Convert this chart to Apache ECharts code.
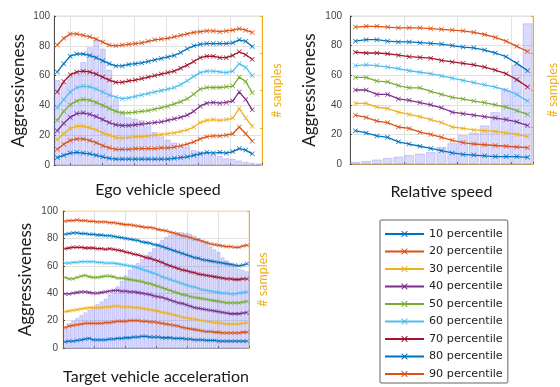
<!DOCTYPE html>
<html>
<head>
<meta charset="utf-8">
<script src="https://cdn.jsdelivr.net/npm/echarts@6/dist/echarts.min.js"></script>
<style>
  html, body { margin: 0; padding: 0; background: #fff; }
  #app { width: 560px; height: 387px; }
</style>
</head>
<body>
<div id="app"></div>
<script>
// percentile names and colours
var names = ['10 percentile', '20 percentile', '30 percentile', '40 percentile', '50 percentile',
  '60 percentile', '70 percentile', '80 percentile', '90 percentile'];
var colors = ['#0072BD', '#D95319', '#EDB120', '#7E2F8E', '#77AC30', '#4DBEEE', '#A2142F', '#0072BD', '#D95319'];
var yTicks = [0, 20, 40, 60, 80, 100];

// Ego vehicle speed (31 points, 32 histogram bins)
var egoSamples = [57, 55, 59, 62, 69, 79, 84, 78, 64, 44, 36, 32, 31, 30, 26, 22, 19, 17, 15, 13, 12, 10, 9, 8, 7, 6, 4.5, 4, 3, 2, 1.5, 1];
var ego10 = [5, 6.5, 8, 8.5, 8, 7.5, 6.5, 5.5, 4.5, 4, 4, 4, 4, 4, 4, 4, 4, 4, 4.5, 5, 5.5, 6.5, 7.5, 8.5, 8, 8.5, 8, 9, 11, 10, 7.5];
var ego20 = [10.5, 14, 16.5, 17.5, 17.5, 16.5, 15, 13, 11.5, 10.5, 10.5, 10.5, 11, 11, 11, 11, 11.5, 11.5, 12, 13, 14, 15.5, 17.5, 19, 19.5, 19.5, 20, 21, 25.5, 21, 16];
var ego30 = [17, 21, 24.5, 26, 26, 25, 23.5, 21.5, 20, 18.5, 18, 18.5, 19, 19, 19.5, 20, 20.5, 21, 21.5, 22.5, 23.5, 25.5, 28.5, 30, 30.5, 30, 30.5, 31.5, 38, 31.5, 26];
var ego40 = [23, 28, 32, 34.5, 35, 34, 32.5, 30.5, 28.5, 27, 26.5, 26.5, 27, 27.5, 28, 28.5, 29, 30, 31, 32, 33.5, 36, 39.5, 41.5, 42, 41.5, 42, 43, 49, 44, 37];
var ego50 = [30, 36, 40.5, 43, 44, 43.5, 42, 40, 38, 36, 35, 35, 35.5, 36, 36.5, 37.5, 38.5, 39.5, 41, 42.5, 44.5, 47.5, 51, 52, 52, 52, 52.5, 53, 59, 56, 48.5];
var ego60 = [38.5, 44, 49, 52, 53, 52.5, 51, 49, 47, 45.5, 44.5, 45, 46, 47, 48, 49, 50, 51, 52, 54, 56.5, 59.5, 62, 63, 63, 62.5, 62, 63, 68, 65.5, 60];
var ego70 = [49, 56, 60.5, 62.5, 63, 62.5, 61, 59, 57, 55.5, 55.5, 56.5, 57, 58, 59, 60, 61, 62, 63, 65, 67, 69.5, 72, 73, 73, 72, 72, 73.5, 76, 74, 71];
var ego80 = [62.5, 68, 73, 74.5, 74.5, 73.5, 72, 70, 68, 66.5, 66.5, 67.5, 68, 68.5, 69.5, 70.5, 71.5, 72.5, 73.5, 75.5, 78, 80, 81, 81.5, 81.5, 81.5, 81.5, 82, 84, 83, 79.5];
var ego90 = [80.5, 85, 88, 88, 87, 86, 84.5, 82.5, 80.5, 80, 80.5, 81, 81.5, 82, 83, 84, 84.5, 85, 86, 87, 88, 89, 89.5, 90, 90, 89.5, 90, 90.5, 91.5, 90.5, 89];

// Relative speed (17 bins)
var relSamples = [1.5, 2, 3, 4, 5, 6, 7, 8, 11.5, 14, 19.5, 21, 26, 35, 50, 67, 95];
var rel10 = [22.5, 21, 19, 18, 15, 13.5, 12, 10.5, 9, 7.5, 6.5, 6, 5.5, 5, 5, 5, 4.5];
var rel20 = [33, 31.5, 29, 28, 25, 24, 21.5, 20, 18, 16, 14.5, 13.5, 13, 12.5, 12, 11.5, 11];
var rel30 = [41, 41, 38.5, 37.5, 35, 33.5, 32, 30, 28, 25, 24, 23, 22.5, 22, 21, 20, 18.5];
var rel40 = [50, 50, 47, 47, 44, 43, 41.5, 40, 38, 35, 34, 33, 32, 31, 30, 28.5, 26];
var rel50 = [58.5, 58.5, 56, 55.5, 53, 51.5, 51.5, 49, 47, 45, 44, 42.5, 41.5, 40, 38.5, 36, 33.5];
var rel60 = [66.5, 67, 66.5, 65.5, 64.5, 63, 62, 61, 59.5, 58, 56.5, 55, 53.5, 52, 50, 47, 42.5];
var rel70 = [75.5, 75, 75, 74.5, 73.5, 72.5, 72, 71.5, 70, 69, 68, 67, 65.5, 63.5, 61, 57, 52];
var rel80 = [83, 84, 84, 83, 82.5, 82.5, 82, 81.5, 81, 80, 79, 78.5, 77, 75, 72.5, 68, 63];
var rel90 = [92.5, 93, 93, 92.5, 92, 92, 92, 91.5, 91, 90.5, 90, 89, 87.5, 85.5, 83, 79.5, 76];

// Target vehicle acceleration (46 bins)
var accSamples = [15, 18, 20, 22, 24, 26, 28, 30, 32, 34, 36, 39, 42, 45, 49, 53, 57, 60, 62, 65, 68, 70, 73, 76,
  79, 81, 82.5, 83.5, 84.5, 84.5, 84, 83.5, 82, 80, 78, 76, 74, 72, 70, 66, 64, 62, 60, 58, 57, 56];
var acc10 = [4.5, 5, 5, 5.5, 6, 6.5, 7, 6, 6, 6, 6, 6.5, 6.5, 7, 7, 7.5, 7.5, 8, 8, 8.5, 8.5, 8, 8, 8,
  7.5, 7.5, 7.5, 7, 7, 7, 6.5, 6.5, 6, 6, 6, 5.5, 5.5, 5.5, 5, 5, 5, 5, 5, 5, 5, 5];
var acc20 = [15, 16, 16.5, 17, 17.5, 18, 18, 18, 18, 18, 18.5, 18.5, 19, 19.5, 19.5, 19.5, 20, 20, 20, 19.5, 19.5, 19, 19, 18.5,
  18, 17.5, 17, 16.5, 16, 15, 14.5, 14, 13.5, 13, 12.5, 12, 12, 11.5, 11.5, 11, 11, 11, 11, 11, 11.5, 11.5];
var acc30 = [26.5, 27, 27.5, 28, 28.5, 29, 29.5, 29.5, 29.5, 29.5, 30, 30, 30.5, 30.5, 30, 30, 30, 29.5, 29.5, 29, 28.5, 28, 27.5, 27,
  26, 25.5, 25, 24, 23.5, 22.5, 22, 21.5, 21, 20.5, 20, 19.5, 19, 18.5, 18.5, 18, 17.5, 17.5, 17.5, 17.5, 18, 18.5];
var acc40 = [39.5, 39.5, 40, 40.5, 41, 41, 40.5, 40, 40, 40.5, 41, 41.5, 42, 42, 41.5, 41.5, 41, 41, 40.5, 40, 39.5, 39, 38, 37.5,
  37, 36, 35, 34, 33, 32.5, 31.5, 30.5, 29.5, 29, 28.5, 28, 27.5, 27, 26.5, 26, 25.5, 25, 25, 25, 25.5, 26];
var acc50 = [51.5, 50.5, 50.5, 51.5, 52.5, 53, 52, 51.5, 51.5, 52, 52.5, 52.5, 52, 51, 51, 50.5, 50, 49.5, 49, 48.5, 47.5, 47, 46, 45,
  44, 43, 42, 41, 40, 39, 38.5, 37.5, 37, 36.5, 36, 35.5, 35, 34.5, 34, 33.5, 33, 33, 33, 33, 33.5, 34];
var acc60 = [62, 62, 62.5, 62.5, 63, 63, 63, 63, 62.5, 62.5, 62, 62, 62, 61.5, 61, 60.5, 60, 59.5, 58.5, 57.5, 56.5, 55.5, 54.5, 53.5,
  52, 51, 50, 49, 48, 47, 46, 45, 44.5, 43.5, 42.5, 42, 41.5, 41, 40.5, 40, 40, 39.5, 39.5, 40, 40.5, 41];
var acc70 = [72.5, 73, 73.5, 73.5, 73.5, 73, 73, 73, 72.5, 72.5, 72, 72.5, 72, 71.5, 71, 70, 69.5, 68.5, 68, 67, 66, 65.5, 64.5, 63.5,
  62.5, 61, 60, 59, 58, 57, 56.5, 55.5, 55, 54, 53.5, 53, 52.5, 52, 51.5, 51, 50.5, 50.5, 50, 50, 50.5, 50.5];
var acc80 = [83, 83.5, 84, 84, 83.5, 83.5, 83, 83, 82.5, 82.5, 82, 82, 81.5, 81, 80.5, 80, 79.5, 79, 78.5, 77.5, 77, 76.5, 75.5, 75,
  74, 73, 72, 71, 70, 69, 68, 67, 66, 65.5, 64.5, 64, 63.5, 63, 62.5, 62, 61.5, 61, 60.5, 60, 60.5, 61.5];
var acc90 = [92.5, 93, 93, 93.5, 93, 93, 92.5, 92.5, 92, 92, 92, 91.5, 91.5, 91, 90.5, 90, 90, 89.5, 89, 88.5, 88, 88, 87.5, 86.5,
  86, 85.5, 84.5, 84, 83, 82, 81.5, 80.5, 79.5, 79, 78, 77, 76, 75.5, 75, 74.5, 74, 74, 73.5, 73.5, 74.5, 75];

window.onload = function() {
  var myChart = echarts.init(document.getElementById('app'), null, {renderer: 'canvas'});
  var crossPath = 'path://M0,1L1,0L5,4L9,0L10,1L6,5L10,9L9,10L5,6L1,10L0,9L4,5Z';
  var titleFont = 'Lato, "Open Sans", sans-serif';
  var orange = '#EDB120';

  var plots = [
    {title: 'Ego vehicle speed', samples: egoSamples, lines: [ego10, ego20, ego30, ego40, ego50, ego60, ego70, ego80, ego90],
      grid: {left: 54, top: 16, width: 208, height: 149}, gmin: -2.5, gmax: 30, split: 6,
      xGap: 17, yGap: 27, lblMargin: 4, sGap: 8, sym: 5, axisColor: '#b89c66'},
    {title: 'Relative speed', samples: relSamples, lines: [rel10, rel20, rel30, rel40, rel50, rel60, rel70, rel80, rel90],
      grid: {left: 350, top: 16, width: 192, height: 148}, gmin: 0, gmax: 17, split: 3,
      xGap: 20, yGap: 32, lblMargin: 8, sGap: 13, sym: 5, axisColor: '#b89c66'},
    {title: 'Target vehicle acceleration', samples: accSamples, lines: [acc10, acc20, acc30, acc40, acc50, acc60, acc70, acc80, acc90],
      grid: {left: 63, top: 211, width: 186, height: 137}, gmin: 0, gmax: 6, split: 6,
      xGap: 21, yGap: 29, lblMargin: 5, sGap: 7, sym: 4, axisColor: '#9a9aaa'}
  ];

  var grids = [], xAxes = [], yAxes = [], series = [];
  plots.forEach(function(p, gi) {
    var g = p.grid;
    grids.push({left: g.left, top: g.top, width: g.width, height: g.height,
      show: true, borderColor: '#f2dca6', borderWidth: 1});
    var cats = p.samples.map(function(v, i) { return String(i + 1); });
    // data axis
    xAxes.push({
      type: 'category', gridIndex: gi, data: cats, boundaryGap: true, position: 'bottom',
      axisLine: {onZero: false, lineStyle: {color: p.axisColor, width: 1}},
      axisTick: {show: false}, axisLabel: {show: false}, splitLine: {show: false},
      name: p.title, nameLocation: 'middle', nameGap: p.xGap,
      nameTextStyle: {fontFamily: titleFont, fontSize: 16, color: '#1a1a1a'}
    });
    // grid-line axis
    xAxes.push({
      type: 'value', gridIndex: gi, min: p.gmin, max: p.gmax, splitNumber: p.split, position: 'bottom',
      axisLine: {show: false, onZero: false}, axisLabel: {show: false},
      axisTick: {show: true, inside: true, length: 2, lineStyle: {color: '#666'}},
      splitLine: {show: true, lineStyle: {color: '#e2e2e2', width: 1}}
    });
    yAxes.push({
      type: 'value', gridIndex: gi, min: 0, max: 100, interval: 20, position: 'left',
      axisLine: {show: true, onZero: false, lineStyle: {color: '#505050'}},
      axisTick: {show: true, inside: true, length: 2, lineStyle: {color: '#505050'}},
      axisLabel: {fontSize: 10, color: '#444', margin: p.lblMargin, fontFamily: 'Liberation Sans, Arial, sans-serif',
        formatter: function(v) { return yTicks.indexOf(v) >= 0 ? String(v) : ''; }},
      splitLine: {show: true, lineStyle: {color: '#e2e2e2'}},
      name: 'Aggressiveness', nameLocation: 'middle', nameGap: p.yGap,
      nameTextStyle: {fontFamily: titleFont, fontSize: 17, color: '#1a1a1a'}
    });
    yAxes.push({
      type: 'value', gridIndex: gi, min: 0, max: 100, interval: 25, position: 'right',
      axisLine: {show: true, onZero: false, lineStyle: {color: orange}},
      axisTick: {show: true, inside: true, length: 2, lineStyle: {color: orange}},
      axisLabel: {show: false}, splitLine: {show: false},
      name: '# samples', nameLocation: 'middle', nameGap: p.sGap,
      nameTextStyle: {fontFamily: titleFont, fontSize: 12.5, color: orange}
    });

    series.push({
      type: 'bar', name: 'samples ' + (gi + 1), xAxisIndex: gi * 2, yAxisIndex: gi * 2 + 1,
      data: p.samples, barCategoryGap: '10%', silent: true, z: 1,
      itemStyle: {color: 'rgba(120,120,245,0.27)', borderColor: 'rgba(120,120,245,0.4)', borderWidth: 0.8}
    });
    p.lines.forEach(function(d, k) {
      series.push({
        type: 'line', name: names[k], xAxisIndex: gi * 2, yAxisIndex: gi * 2,
        data: d, symbol: crossPath, symbolSize: p.sym, showAllSymbol: true,
        lineStyle: {width: 1.3, color: colors[k]}, itemStyle: {color: colors[k]},
        z: 3, silent: true
      });
    });
  });

  var option = {
    animation: false,
    backgroundColor: '#fff',
    grid: grids,
    xAxis: xAxes,
    yAxis: yAxes,
    legend: {
      data: names, orient: 'vertical', left: 380, top: 220,
      padding: [7, 5, 2, 4], itemWidth: 39, itemHeight: 8, itemGap: 3.5,
      selectedMode: false,
      textStyle: {fontFamily: 'DejaVu Sans, sans-serif', fontSize: 11.2, color: '#222', lineHeight: 14},
      backgroundColor: '#fff', borderColor: '#999', borderWidth: 1.5, borderRadius: 2
    },
    series: series
  };
  myChart.setOption(option);
};
</script>
</body>
</html>
